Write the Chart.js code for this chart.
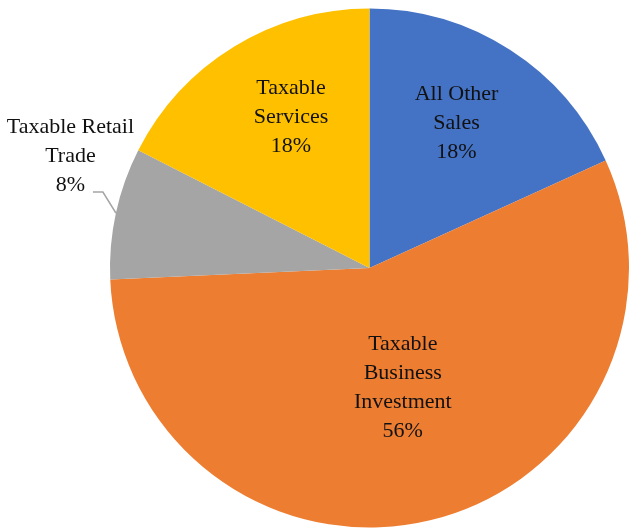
<!DOCTYPE html>
<html>
<head>
<meta charset="utf-8">
<script src="https://cdn.jsdelivr.net/npm/chart.js@4"></script>
<style>
  html, body { margin: 0; padding: 0; background: #fff; }
  #wrap { width: 629px; height: 531px; }
</style>
</head>
<body>
<div id="wrap"><canvas id="salesPie"></canvas></div>
<script>
// === DATA ===
const categories = ["All Other Sales", "Taxable Business Investment", "Taxable Retail Trade", "Taxable Services"];
const shares = [18.2, 56.1, 8.2, 17.5];
const labelLines = [
  ["All Other", "Sales"],
  ["Taxable", "Business", "Investment"],
  ["Taxable Retail", "Trade"],
  ["Taxable", "Services"]
];
const sliceColors = ["#4472C4", "#ED7D31", "#A5A5A5", "#FFC000"];

// where each label sits: fraction of radius, angle shift in degrees
const labelPlace = [
  { r: 0.65, shift: -1.7 },
  { r: 0.48, shift: -2 },
  { r: 1.23, shift: 8.2, leader: true },
  { r: 0.655, shift: 4 }
];

const pieLabels = {
  id: "pieLabels",
  afterDatasetsDraw(chart) {
    const ctx = chart.ctx;
    const meta = chart.getDatasetMeta(0);
    ctx.save();
    ctx.font = "22px 'Liberation Serif', serif";
    ctx.fillStyle = "#111";
    ctx.textAlign = "center";
    ctx.textBaseline = "middle";
    meta.data.forEach((arc, i) => {
      const p = labelPlace[i];
      const mid = (arc.startAngle + arc.endAngle) / 2;
      const a = mid + p.shift * Math.PI / 180;
      const cx = arc.x + Math.cos(a) * arc.outerRadius * p.r;
      const cy = arc.y + Math.sin(a) * arc.outerRadius * p.r;
      const lines = labelLines[i].concat([Math.round(shares[i]) + "%"]);
      const lh = 29;
      const top = cy - (lines.length - 1) * lh / 2;
      lines.forEach((t, k) => ctx.fillText(t, cx, top + k * lh));

      if (p.leader) {
        const x0 = arc.x + Math.cos(mid) * arc.outerRadius;
        const y0 = arc.y + Math.sin(mid) * arc.outerRadius;
        ctx.strokeStyle = "#A5A5A5";
        ctx.lineWidth = 1.5;
        ctx.beginPath();
        ctx.moveTo(x0, y0);
        ctx.lineTo(x0 - 13, y0 - 21);
        ctx.lineTo(x0 - 23, y0 - 21);
        ctx.stroke();
      }
    });
    ctx.restore();
  }
};

new Chart(document.getElementById("salesPie"), {
  type: "pie",
  data: {
    labels: categories,
    datasets: [{
      data: shares,
      backgroundColor: sliceColors,
      borderWidth: 0
    }]
  },
  options: {
    responsive: true,
    maintainAspectRatio: false,
    animation: false,
    layout: { padding: { left: 110, right: 0, top: 8, bottom: 3 } },
    plugins: {
      legend: { display: false },
      tooltip: { enabled: false }
    }
  },
  plugins: [pieLabels]
});
</script>
</body>
</html>
